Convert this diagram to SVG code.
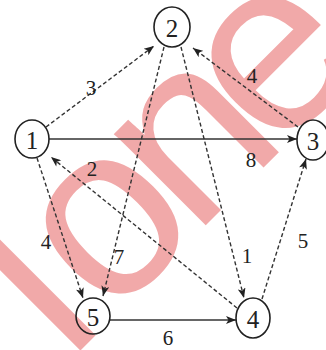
<svg xmlns="http://www.w3.org/2000/svg" width="326" height="350" viewBox="0 0 326 350">
<defs>
<style>
.node ellipse{fill:none;stroke:#222;stroke-width:1.6}
.node text{font-family:"Liberation Serif",serif;font-size:25px;fill:#222;text-anchor:middle;dominant-baseline:central}
.e{fill:none;stroke:#333;stroke-width:1.4}
.d{stroke-dasharray:4 2.5}
.lbl{font-family:"Liberation Serif",serif;font-size:21px;fill:#222;text-anchor:middle;dominant-baseline:central}
.wm{font-family:"Liberation Sans",sans-serif;font-size:245px;fill:#ee9494;opacity:0.8;text-anchor:middle}
</style>
<marker id="arr" viewBox="0 0 10 8" refX="10" refY="4" markerWidth="11" markerHeight="8" markerUnits="userSpaceOnUse" orient="auto">
<path d="M0,0 L10,4 L0,8 L2.5,4 Z" fill="#222"/>
</marker>
</defs>
<rect width="326" height="350" fill="#fff"/>
<g id="watermark">
<text class="wm" transform="translate(88,343) rotate(-45)">l</text>
<text class="wm" transform="translate(158,273) rotate(-45)">o</text>
<text class="wm" transform="translate(242,189) rotate(-45)">n</text>
<text class="wm" transform="translate(323,108) rotate(-45)">e</text>
</g>
<g id="connectors">
<path class="e" d="M49,139 L297,139" stroke-width="2.2" marker-end="url(#arr)"/>
<path class="e" d="M110,320 L236,320" marker-end="url(#arr)"/>
<path class="e d" d="M46,127 L154,46" marker-end="url(#arr)"/>
<path class="e d" d="M298,127 L193,48" marker-end="url(#arr)"/>
<path class="e d" d="M164,47 L103,296" marker-end="url(#arr)"/>
<path class="e d" d="M181,47 L244,298" marker-end="url(#arr)"/>
<path class="e d" d="M237,308 L51,157" marker-end="url(#arr)"/>
<path class="e d" d="M37,158 L83,298" marker-end="url(#arr)"/>
<path class="e d" d="M262,299 L306,159" marker-end="url(#arr)"/>
<text class="lbl" x="91" y="88">3</text>
<text class="lbl" x="252" y="76">4</text>
<text class="lbl" x="251" y="160">8</text>
<text class="lbl" x="92" y="169">2</text>
<text class="lbl" x="119" y="257">7</text>
<text class="lbl" x="46" y="242">4</text>
<text class="lbl" x="247" y="256">1</text>
<text class="lbl" x="303" y="241">5</text>
<text class="lbl" x="168" y="338">6</text>
</g>
<g id="node1" class="node"><ellipse cx="32" cy="139" rx="17" ry="19"/><text x="32" y="140">1</text></g>
<g id="node2" class="node"><ellipse cx="172" cy="27" rx="18" ry="20"/><text x="172" y="28">2</text></g>
<g id="node3" class="node"><ellipse cx="313" cy="140" rx="16" ry="20"/><text x="313" y="141">3</text></g>
<g id="node4" class="node"><ellipse cx="253" cy="318" rx="17" ry="20"/><text x="253" y="319">4</text></g>
<g id="node5" class="node"><ellipse cx="93" cy="316" rx="17" ry="18"/><text x="93" y="317">5</text></g>
</svg>
